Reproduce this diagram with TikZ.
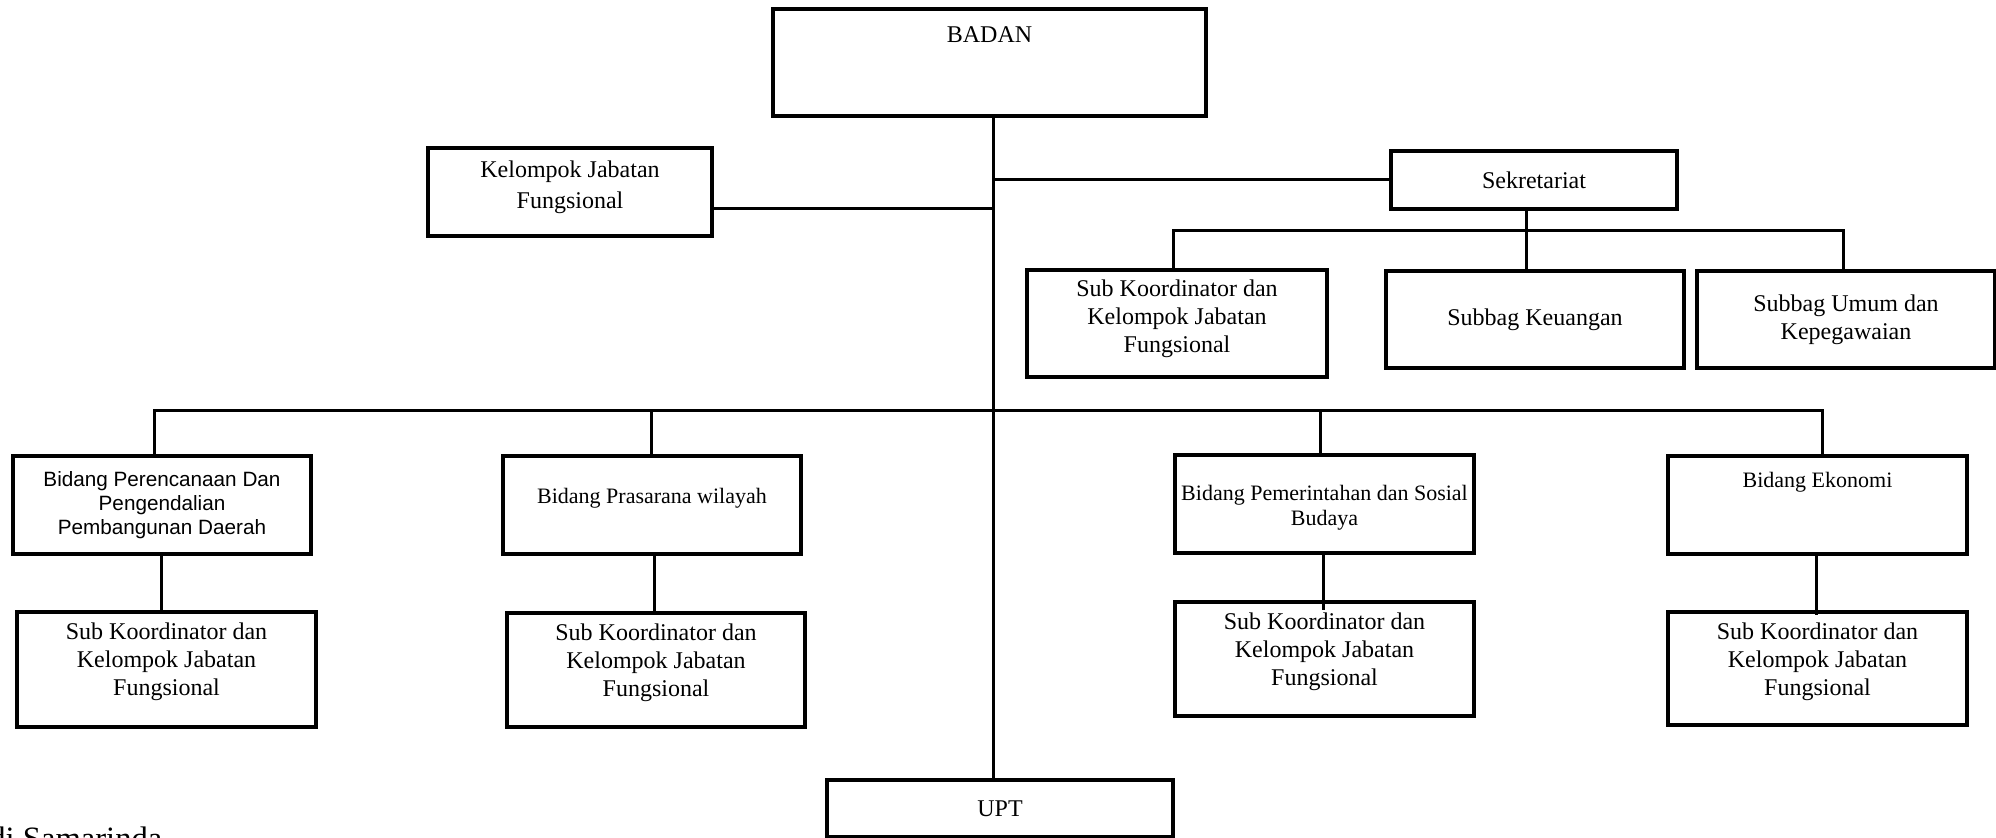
\documentclass[tikz,border=0pt]{standalone}
\usepackage{fontspec}
\setmainfont{Liberation Serif}
\newfontfamily\arialfont{Liberation Sans}
\begin{document}
\begin{tikzpicture}[x=0.5pt,y=-0.5pt,
  box/.style={draw, line width=1.6pt, inner sep=0pt, outer sep=0pt, rectangle},
  wire/.style={line width=1.5pt},
  tx/.style={font=\fontsize{12}{14}\selectfont, align=center, inner sep=0pt},
  bid/.style={font=\fontsize{11}{12.5}\selectfont, align=center, inner sep=0pt},
  ar/.style={font=\arialfont\fontsize{10.35}{12}\selectfont, align=center, inner sep=0pt},
  subtx/.style={label={[tx,anchor=north,yshift=-5.3pt]north:Sub Koordinator dan\\Kelompok Jabatan\\Fungsional}},
]
\useasboundingbox (0,0) rectangle (1996,838);
\clip (0,0) rectangle (1996,838);

% coordinates for connector lines
\coordinate (trunk) at (993,0);
\coordinate (kjy) at (0,209);
\coordinate (sx) at (1526,0);
\coordinate (sb) at (0,231);
\coordinate (sl) at (1173,0);
\coordinate (sr) at (1843,0);
\coordinate (mb) at (0,411);
\coordinate (b1) at (154,0);
\coordinate (b2) at (651,0);
\coordinate (b3) at (1320,0);
\coordinate (b4) at (1822,0);
\coordinate (s1) at (161,0);
\coordinate (s2) at (654,0);
\coordinate (s3) at (1323,0);
\coordinate (s4) at (1816,0);

% boxes
\node[box, minimum width=216.5pt, minimum height=53.5pt,
  label={[tx,anchor=north,yshift=-8.5pt]north:BADAN}] (badan) at (989.5,62.5) {};
\node[box, minimum width=142pt, minimum height=44pt,
  label={[tx,font=\fontsize{12}{15.5}\selectfont,anchor=north,yshift=-6.3pt]north:Kelompok Jabatan\\Fungsional}] (kjf) at (570,192) {};
\node[box, tx, minimum width=143pt, minimum height=29pt] (sek) at (1534,180) {Sekretariat};
\node[box, minimum width=150pt, minimum height=53.5pt,
  label={[tx,anchor=north,yshift=-4.8pt]north:Sub Koordinator dan\\Kelompok Jabatan\\Fungsional}] (sks) at (1177,323.5) {};
\node[box, tx, minimum width=149pt, minimum height=48.5pt] (keu) at (1535,319.5) {Subbag Keuangan};
\node[box, tx, minimum width=149pt, minimum height=48.5pt] (umum) at (1846,319.5) {Subbag Umum dan\\Kepegawaian};

\node[box, ar, minimum width=149pt, minimum height=49pt] (bp) at (162,505) {Bidang Perencanaan Dan\\Pengendalian\\Pembangunan Daerah};
\node[box, minimum width=149pt, minimum height=49pt,
  label={[bid,yshift=3.5pt]center:Bidang Prasarana wilayah}] (bpw) at (652,505) {};
\node[box, minimum width=149.5pt, minimum height=49pt,
  label={[bid,yshift=-2pt]center:Bidang Pemerintahan dan Sosial\\Budaya}] (bps) at (1324.5,504) {};
\node[box, minimum width=149.5pt, minimum height=49pt,
  label={[bid,anchor=north,yshift=-8pt]north:Bidang Ekonomi}] (be) at (1817.5,505) {};

\node[box, subtx, minimum width=149.5pt, minimum height=57.5pt] (sk1) at (166.5,669.5) {};
\node[box, subtx, minimum width=149pt, minimum height=57pt] (sk2) at (656,670) {};
\node[box, subtx, minimum width=149.5pt, minimum height=57pt] (sk3) at (1324.5,659) {};
\node[box, subtx, minimum width=149.5pt, minimum height=56.5pt] (sk4) at (1817.5,668.5) {};

\node[box, tx, minimum width=173pt, minimum height=28.5pt] (upt) at (1000,808.5) {UPT};

\node[tx, font=\fontsize{16.3}{18}\selectfont, anchor=base west] (kota) at (-11,849) {di Samarinda};

% connectors
\draw[wire] (trunk |- badan.south) -- (trunk |- upt.north);
\draw[wire] (kjf.east |- kjy) -- (trunk |- kjy);
\draw[wire] (trunk |- sek.west) -- (sek.west);
\draw[wire] (sx |- sek.south) -- (sx |- keu.north);
\draw[wire] (sl |- sks.north) -- (sl |- sb) -- (sr |- sb) -- (sr |- umum.north);
\draw[wire] (b1 |- bp.north) -- (b1 |- mb) -- (b4 |- mb) -- (b4 |- be.north);
\draw[wire] (b2 |- mb) -- (b2 |- bpw.north);
\draw[wire] (b3 |- mb) -- (b3 |- bps.north);
\draw[wire] (s1 |- bp.south) -- (s1 |- sk1.north);
\draw[wire] (s2 |- bpw.south) -- (s2 |- sk2.north);
\draw[wire] (s3 |- bps.south) -- ++(0,57);
\draw[wire] (s4 |- be.south) -- ++(0,61);
\end{tikzpicture}
\end{document}
